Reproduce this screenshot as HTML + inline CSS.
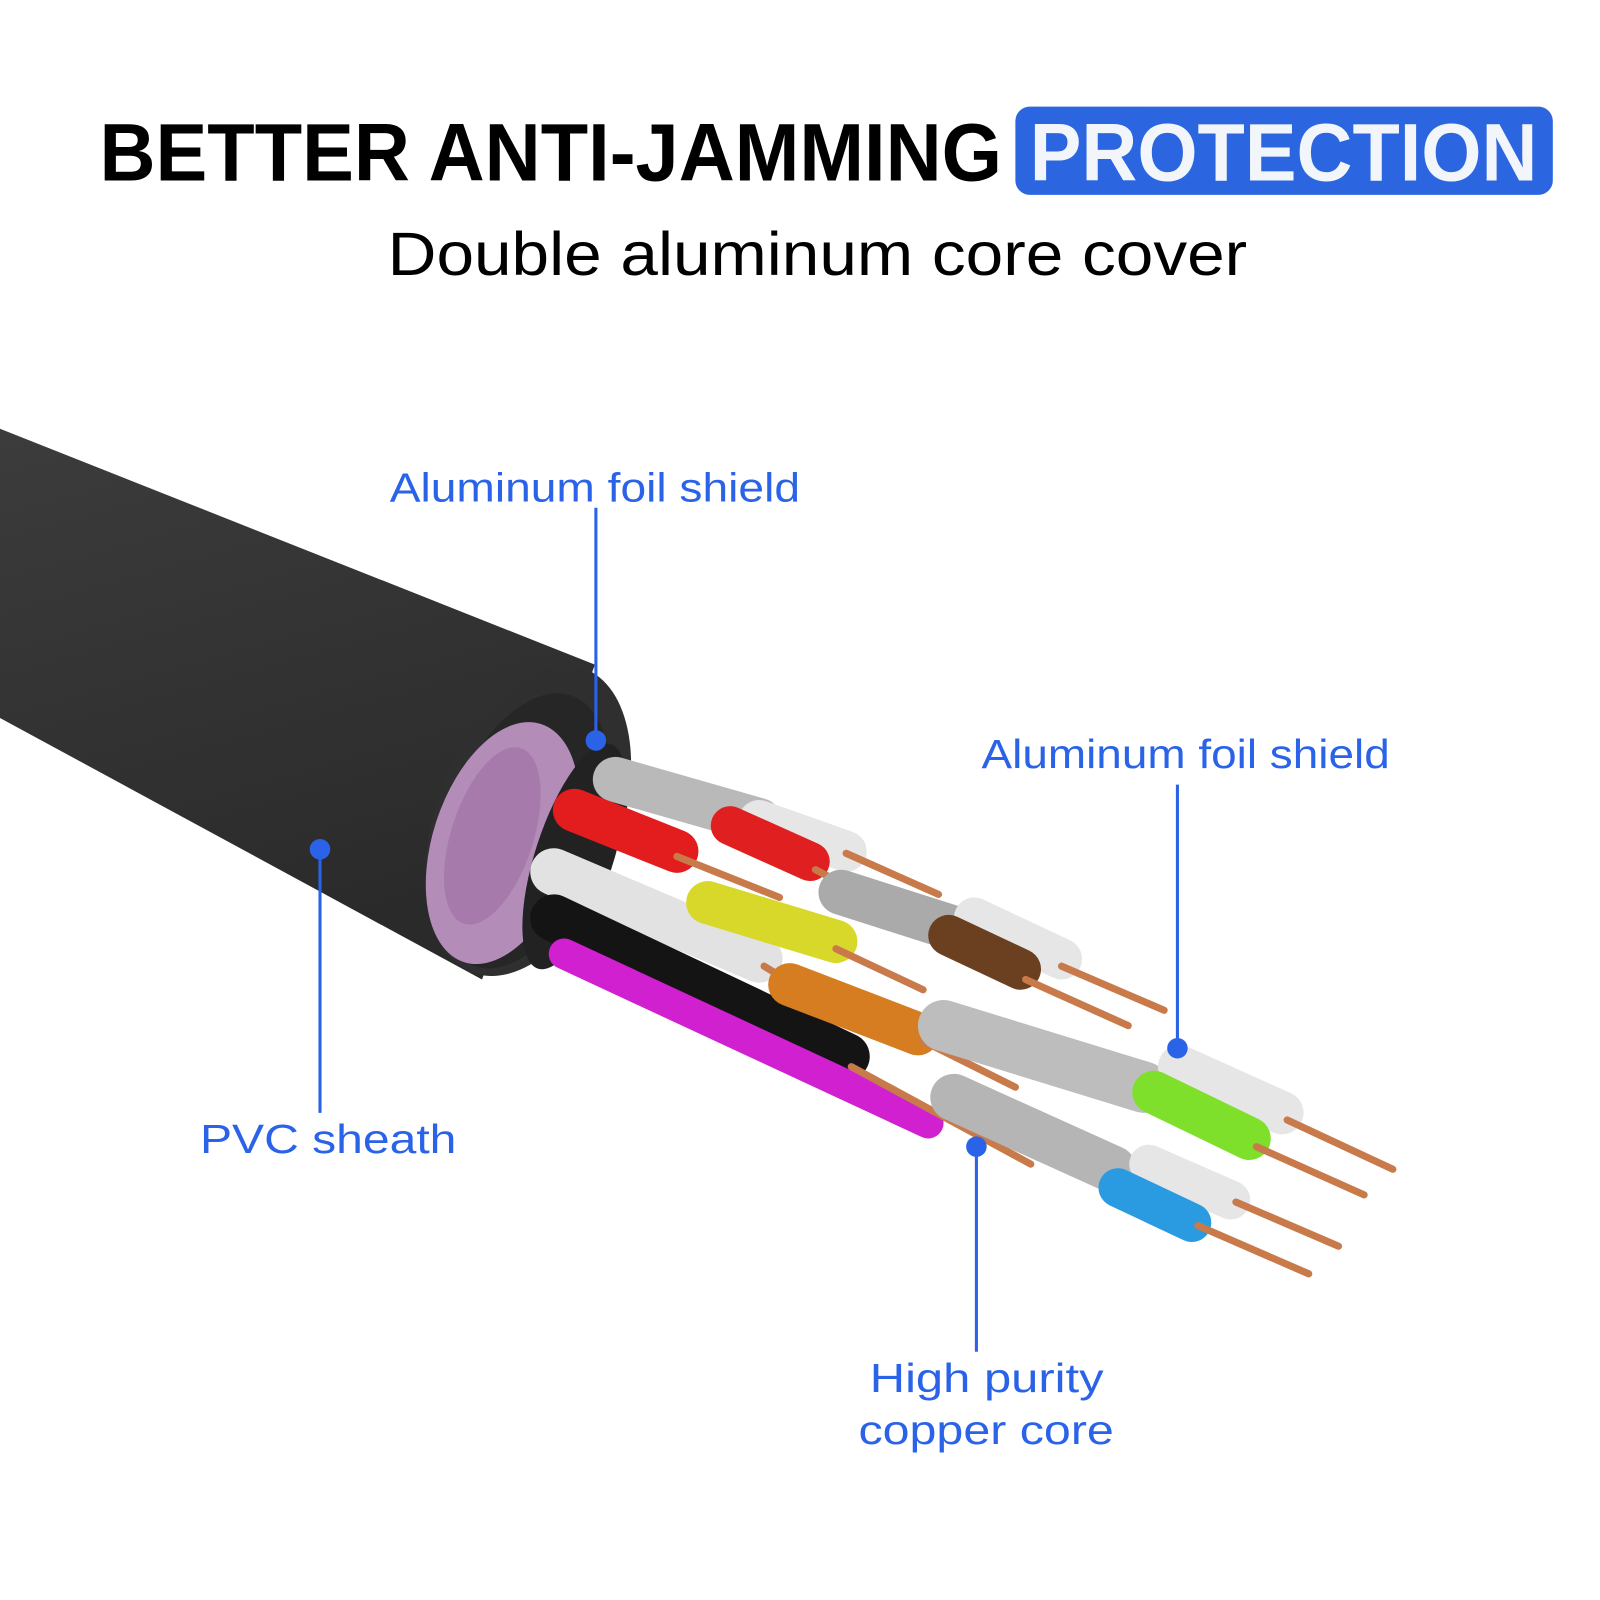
<!DOCTYPE html>
<html><head><meta charset="utf-8"><style>
html,body{margin:0;padding:0;background:#fff;}
svg{display:block;}
</style></head><body>
<svg width="1600" height="1600" viewBox="0 0 1560 1560" xmlns="http://www.w3.org/2000/svg">
<defs>
<linearGradient id="sh" x1="0" y1="0" x2="0.3" y2="1">
<stop offset="0" stop-color="#3c3c3c"/><stop offset="0.5" stop-color="#333"/><stop offset="1" stop-color="#2a2a2a"/>
</linearGradient>
</defs>
<rect width="1560" height="1560" fill="#fff"/>
<!-- title -->
<text x="97" y="176" font-family="Liberation Sans, sans-serif" font-weight="bold" font-size="80" textLength="880" lengthAdjust="spacingAndGlyphs" fill="#000">BETTER ANTI-JAMMING</text>
<rect x="990" y="104" width="524" height="86" rx="14" fill="#2b66e0"/>
<text x="1004" y="176" font-family="Liberation Sans, sans-serif" font-weight="bold" font-size="80" textLength="495" lengthAdjust="spacingAndGlyphs" fill="#f2f6fb">PROTECTION</text>
<text x="378" y="268" font-family="Liberation Sans, sans-serif" font-size="60" textLength="838" lengthAdjust="spacingAndGlyphs" fill="#000">Double aluminum core cover</text>

<!-- sheath -->
<polygon points="0,418 580,648 470,955 0,700" fill="url(#sh)"/>
<ellipse cx="515" cy="800" rx="90" ry="158" transform="rotate(20 515 800)" fill="#2f2f2f"/>
<ellipse cx="510" cy="810" rx="75" ry="140" transform="rotate(20 510 810)" fill="#262626"/>
<ellipse cx="490" cy="822" rx="68" ry="122" transform="rotate(18 490 822)" fill="#b48cb8"/>
<ellipse cx="480" cy="815" rx="40" ry="90" transform="rotate(18 480 815)" fill="#9d6fa3" opacity="0.6"/>
<ellipse cx="560" cy="835" rx="38" ry="115" transform="rotate(18 560 835)" fill="#222"/>

<g stroke-linecap="round" fill="none">
<!-- upper foil wire -->
<line x1="600" y1="760" x2="740" y2="800" stroke="#b9b9b9" stroke-width="44"/>
<line x1="740" y1="800" x2="825" y2="830" stroke="#e6e6e6" stroke-width="40"/>
<line x1="825" y1="832" x2="915" y2="872" stroke="#c87a4a" stroke-width="7"/>
<!-- red2 -->
<line x1="712" y1="805" x2="790" y2="840" stroke="#e02020" stroke-width="38"/>
<line x1="795" y1="848" x2="880" y2="892" stroke="#c87a4a" stroke-width="7"/>
<!-- brown group foil -->
<line x1="820" y1="870" x2="930" y2="905" stroke="#aaa" stroke-width="44"/>
<line x1="950" y1="895" x2="1035" y2="935" stroke="#e6e6e6" stroke-width="40"/>
<line x1="1035" y1="942" x2="1135" y2="985" stroke="#c87a4a" stroke-width="7"/>
<line x1="925" y1="912" x2="995" y2="945" stroke="#6b4020" stroke-width="40"/>
<line x1="1000" y1="955" x2="1100" y2="1000" stroke="#c87a4a" stroke-width="7"/>
<!-- red big -->
<line x1="560" y1="790" x2="660" y2="830" stroke="#e31d1d" stroke-width="42"/>
<line x1="660" y1="835" x2="760" y2="875" stroke="#c87a4a" stroke-width="7"/>
<!-- white big -->
<line x1="540" y1="850" x2="740" y2="935" stroke="#e2e2e2" stroke-width="46"/>
<!-- yellow -->
<line x1="690" y1="880" x2="815" y2="918" stroke="#d8d82a" stroke-width="42"/>
<line x1="815" y1="925" x2="900" y2="965" stroke="#c87a4a" stroke-width="7"/>
<line x1="745" y1="942" x2="840" y2="1000" stroke="#c87a4a" stroke-width="7"/>
<!-- black -->
<line x1="540" y1="895" x2="825" y2="1030" stroke="#141414" stroke-width="46"/>
<!-- magenta -->
<line x1="550" y1="930" x2="905" y2="1095" stroke="#d020d0" stroke-width="30"/>
<!-- orange -->
<line x1="770" y1="960" x2="895" y2="1008" stroke="#d57d20" stroke-width="42"/>
<line x1="900" y1="1015" x2="990" y2="1060" stroke="#c87a4a" stroke-width="7"/>
<line x1="830" y1="1040" x2="1005" y2="1135" stroke="#c87a4a" stroke-width="7"/>
<!-- lower foil to green -->
<line x1="920" y1="1000" x2="1115" y2="1060" stroke="#bdbdbd" stroke-width="50"/>
<line x1="1150" y1="1040" x2="1250" y2="1085" stroke="#e6e6e6" stroke-width="42"/>
<line x1="1255" y1="1092" x2="1358" y2="1140" stroke="#c87a4a" stroke-width="7"/>
<line x1="1125" y1="1065" x2="1218" y2="1110" stroke="#7ee02a" stroke-width="42"/>
<line x1="1225" y1="1118" x2="1330" y2="1165" stroke="#c87a4a" stroke-width="7"/>
<!-- foil to blue -->
<line x1="930" y1="1070" x2="1085" y2="1140" stroke="#b5b5b5" stroke-width="46"/>
<line x1="1120" y1="1135" x2="1200" y2="1170" stroke="#e6e6e6" stroke-width="38"/>
<line x1="1205" y1="1172" x2="1305" y2="1215" stroke="#c87a4a" stroke-width="7"/>
<line x1="1090" y1="1158" x2="1162" y2="1192" stroke="#2a9be0" stroke-width="38"/>
<line x1="1168" y1="1195" x2="1276" y2="1242" stroke="#c87a4a" stroke-width="7"/>
</g>

<!-- callouts -->
<g fill="#2b63e8" stroke="#2b63e8" stroke-width="3">
<line x1="581" y1="495" x2="581" y2="720"/><circle cx="581" cy="722" r="10" stroke="none"/>
<line x1="1148" y1="765" x2="1148" y2="1020"/><circle cx="1148" cy="1022" r="10" stroke="none"/>
<line x1="312" y1="828" x2="312" y2="1085"/><circle cx="312" cy="828" r="10" stroke="none"/>
<line x1="952" y1="1118" x2="952" y2="1318"/><circle cx="952" cy="1118" r="10" stroke="none"/>
</g>
<g font-family="Liberation Sans, sans-serif" font-size="40" fill="#2b63e8">
<text x="380" y="489" textLength="400" lengthAdjust="spacingAndGlyphs">Aluminum foil shield</text>
<text x="957" y="749" textLength="398" lengthAdjust="spacingAndGlyphs">Aluminum foil shield</text>
<text x="195" y="1124" textLength="250" lengthAdjust="spacingAndGlyphs">PVC sheath</text>
<text x="848" y="1357" textLength="228" lengthAdjust="spacingAndGlyphs">High purity</text>
<text x="837" y="1408" textLength="249" lengthAdjust="spacingAndGlyphs">copper core</text>
</g>
</svg>
</body></html>
